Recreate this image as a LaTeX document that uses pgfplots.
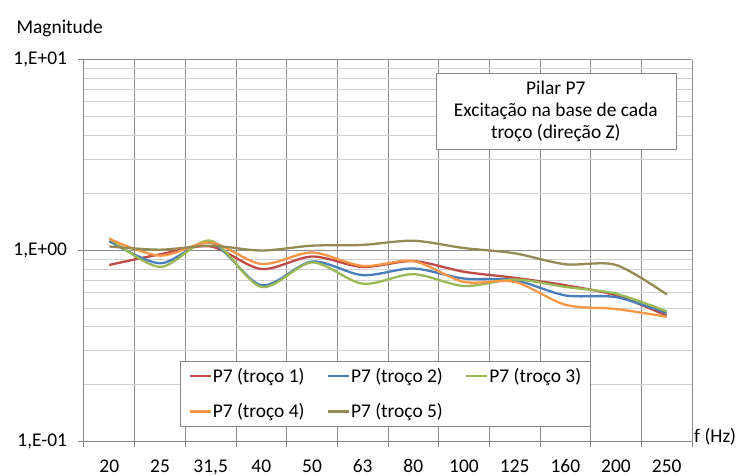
\documentclass[border=0pt]{standalone}
\usepackage{fontspec}
\setmainfont{Carlito}
\usepackage{pgfplots}
\usepackage{pgfplotstable}
\pgfplotsset{compat=1.18}

\definecolor{c1}{HTML}{BE4B48}
\definecolor{c2}{HTML}{4A7EBB}
\definecolor{c3}{HTML}{98B954}
\definecolor{c4}{HTML}{F79646}
\definecolor{c5}{HTML}{948A54}
\definecolor{axisgray}{HTML}{868686}
\definecolor{majgrid}{HTML}{8C8C8C}
\definecolor{mingrid}{HTML}{D0D0D0}

% magnitude per third-octave band, x = band index (20 Hz ... 250 Hz)
\pgfplotstableread{
x   t1    t2    t3    t4    t5
0   0.84  1.12  1.16  1.15  1.05
1   0.955 0.857 0.82  0.94  1.01
2   1.05  1.10  1.125 1.10  1.06
3   0.80  0.658 0.645 0.85  1.00
4   0.93  0.875 0.866 0.976 1.06
5   0.82  0.743 0.67  0.83  1.07
6   0.88  0.805 0.752 0.88  1.125
7   0.774 0.713 0.652 0.685 1.03
8   0.72  0.70  0.705 0.685 0.967
9   0.658 0.582 0.645 0.52  0.847
10  0.582 0.57  0.594 0.494 0.84
11  0.456 0.47  0.48  0.45  0.589
}\datatable

\begin{document}
\begin{tikzpicture}[font=\fontsize{19.5}{22}\selectfont]
\begin{axis}[
  name=ax, at={(0,0)}, anchor=south west,
  width=608bp, height=382bp, scale only axis,
  xmin=-0.5, xmax=11.5,
  ymode=log, ymin=0.1, ymax=10,
  axis lines*=left,
  axis line style={draw=axisgray, line width=1bp},
  xtick={-0.5,0.5,...,11.5}, xticklabels={},
  ytick={0.1,1,10}, yticklabels={{1,E-01},{1,E+00},{1,E+01}},
  minor ytick={0.2,0.3,0.4,0.5,0.6,0.7,0.8,0.9,2,3,4,5,6,7,8,9},
  extra x ticks={0,...,11},
  extra x tick labels={20,25,{31,5},40,50,63,80,100,125,160,200,250},
  extra x tick style={grid=none, major tick length=0pt,
    tick label style={anchor=north, inner sep=0pt, text height=13bp,
      text depth=0pt, yshift=-17.5bp}},
  tick align=outside, major tick length=5.5bp, minor tick length=0pt,
  tick style={draw=axisgray, line width=1bp},
  grid=both,
  major grid style={draw=majgrid, line width=1bp},
  minor grid style={draw=mingrid, line width=1bp},
  tick label style={font=\fontsize{19.5}{22}\selectfont},
  yticklabel style={xshift=-8bp},
  legend columns=3, legend cell align=left,
  legend image code/.code={\draw[#1,line width=2.5bp] (0bp,0bp) -- (21bp,0bp);},
  legend style={at={(0.158,0.2107)}, anchor=north west, draw=axisgray, fill=white,
    inner xsep=8bp, inner ysep=4bp, row sep=13.5bp, font=\fontsize{19.5}{22}\selectfont,
    nodes={inner xsep=1bp, inner ysep=3bp},
    /tikz/every even column/.append style={column sep=21bp}},
]
\addplot[c1, line width=2.3bp, smooth, no markers] table[x=x,y=t1]{\datatable};
\addplot[c2, line width=2.3bp, smooth, no markers] table[x=x,y=t2]{\datatable};
\addplot[c3, line width=2.3bp, smooth, no markers] table[x=x,y=t3]{\datatable};
\addplot[c4, line width=2.3bp, smooth, no markers] table[x=x,y=t4]{\datatable};
\addplot[c5, line width=2.3bp, smooth, no markers] table[x=x,y=t5]{\datatable};
\legend{P7 (troço 1),P7 (troço 2),P7 (troço 3),P7 (troço 4),P7 (troço 5)}
\node[draw=axisgray, fill=white, align=center, minimum width=240bp,
  minimum height=76bp, inner sep=0pt, font=\fontsize{19.5}{21.7}\selectfont]
  at (axis description cs:0.776,0.864)
  {Pilar P7\\Excitação na base de cada\\troço (direção Z)};
\end{axis}
\node[anchor=base west] at ([xshift=-71bp,yshift=408bp]ax.south west) {Magnitude};
\node[anchor=west, inner sep=0pt] at ([xshift=2bp,yshift=5bp]ax.south east) {f (Hz)};
\pgfresetboundingbox
\path ([xshift=-84bp,yshift=-34.5bp]ax.south west) rectangle ([xshift=653bp,yshift=441.5bp]ax.south west);
\end{tikzpicture}
\end{document}
